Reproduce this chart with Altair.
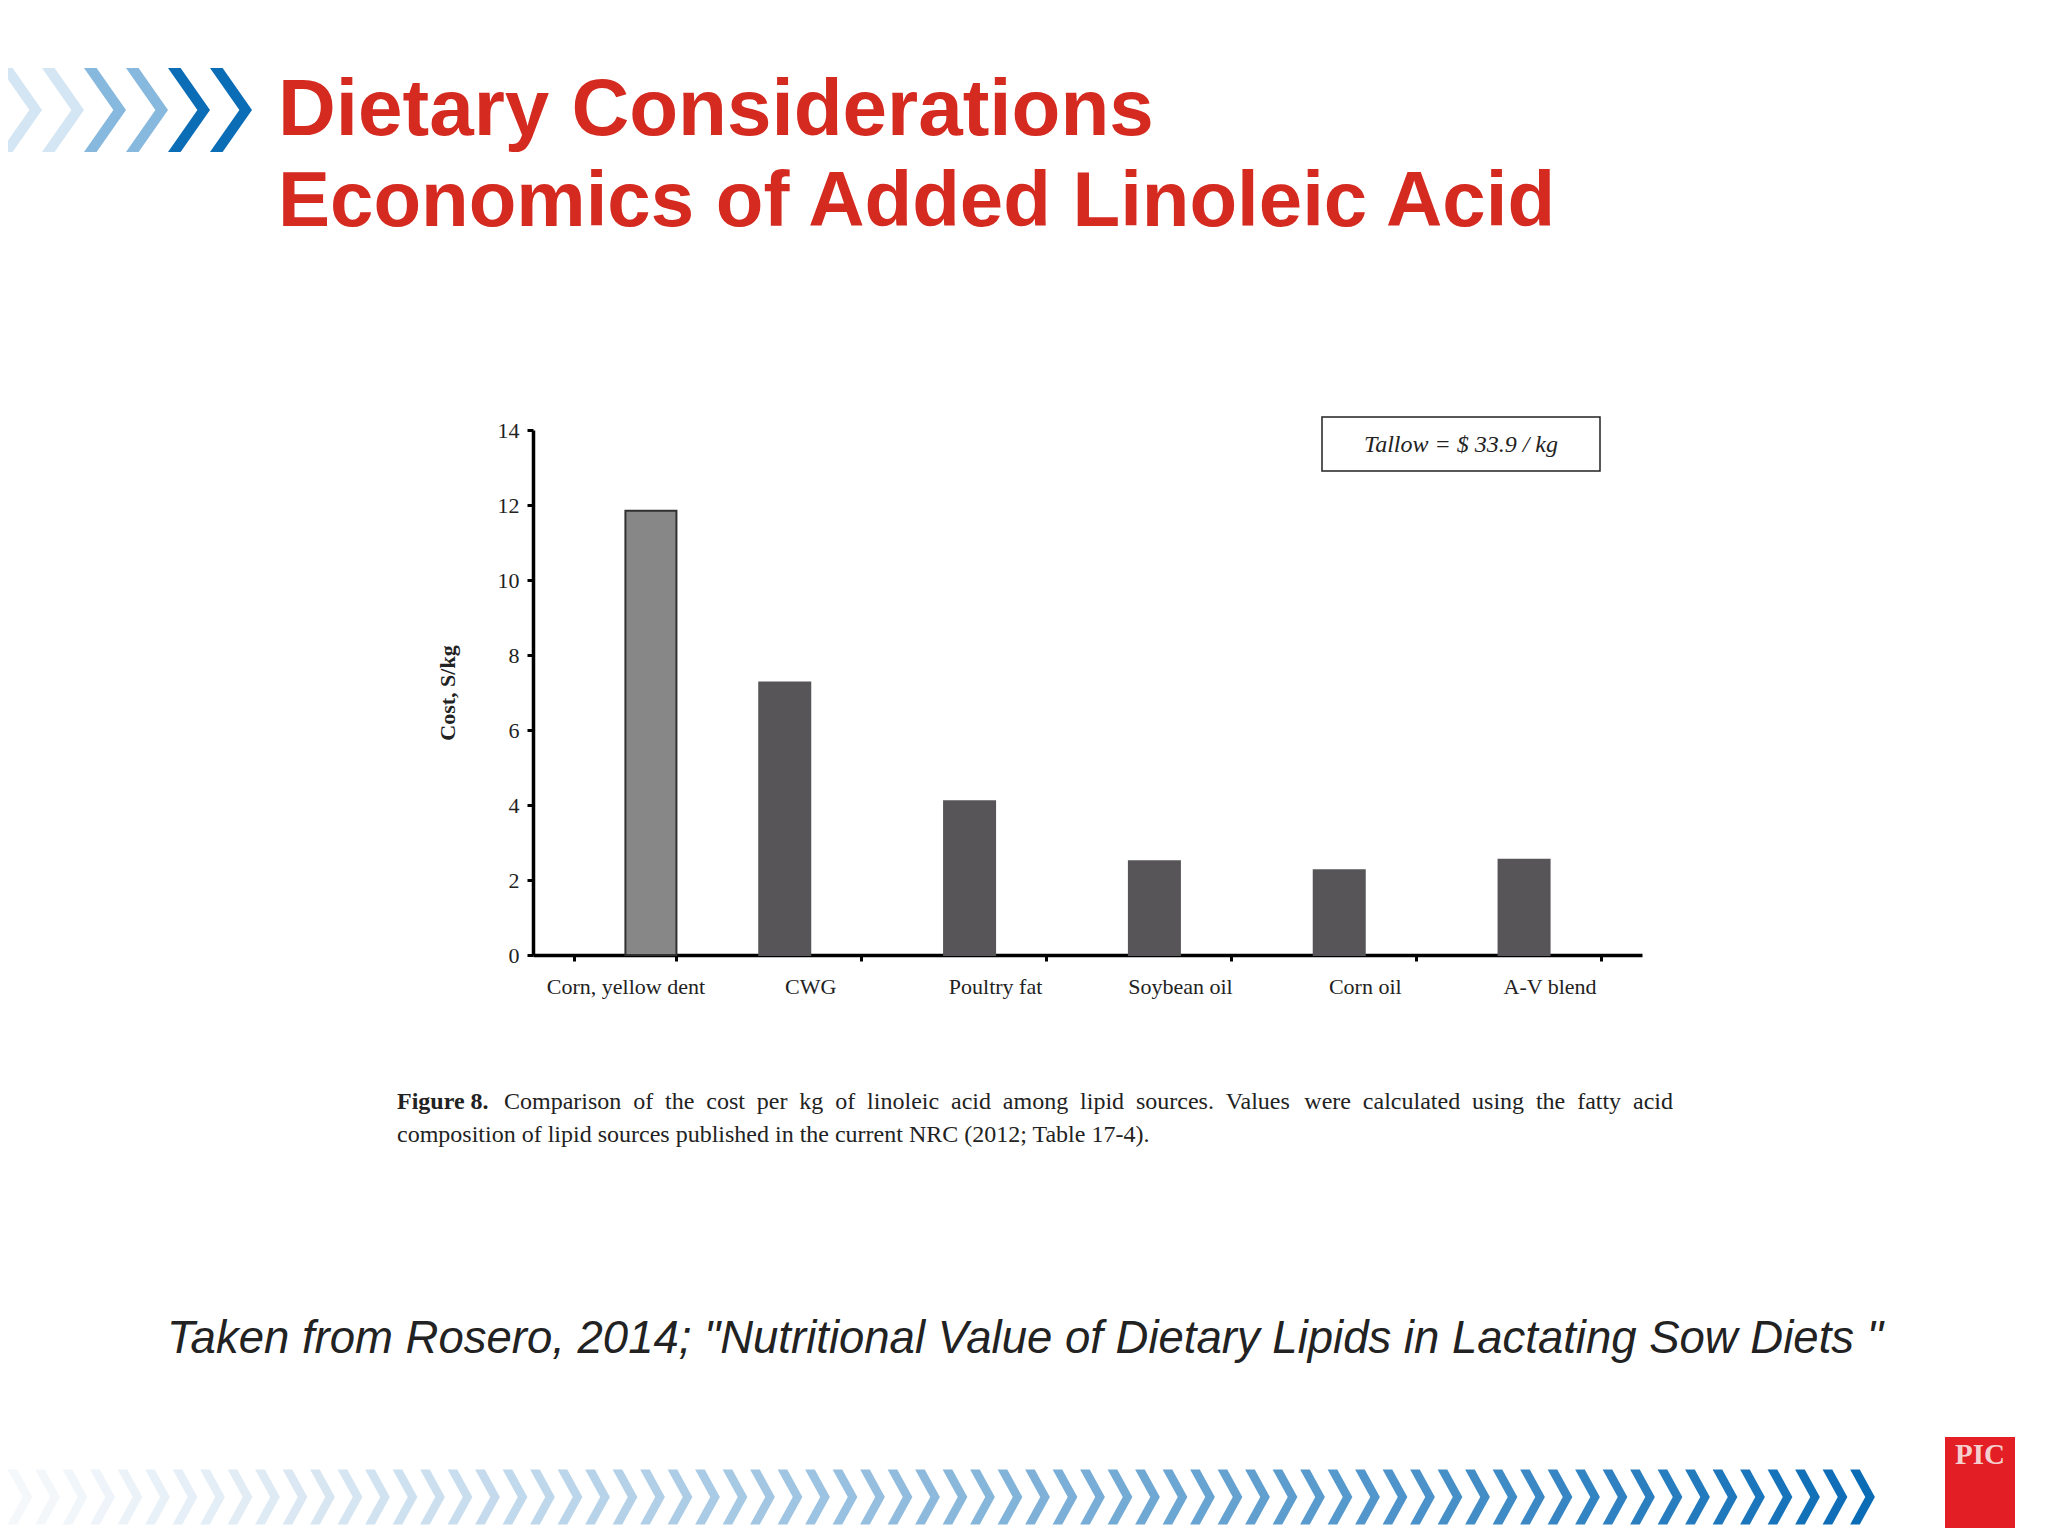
import altair as alt
import pandas as pd

# ---------------- data ----------------
categories = ["Corn, yellow dent", "CWG", "Poultry fat", "Soybean oil", "Corn oil", "A-V blend"]
costs = [11.85, 7.27, 4.1, 2.5, 2.26, 2.54]
groups = ["corn", "lipid", "lipid", "lipid", "lipid", "lipid"]
y_ticks = [0, 2, 4, 6, 8, 10, 12, 14]

title_line1 = "Dietary Considerations"
title_line2 = "Economics of Added Linoleic Acid"
box_label = "Tallow = $ 33.9 / kg"
y_title = "Cost, S/kg"
caption_bold = "Figure 8."
caption_line1 = ("Comparison of the cost per kg of linoleic acid among lipid sources. "
                 "Values were calculated using the fatty acid")
caption_line2 = "composition of lipid sources published in the current NRC (2012; Table 17-4)."
source_text = 'Taken from Rosero, 2014; "Nutritional Value of Dietary Lipids in Lactating Sow Diets "'
logo_text = "PIC"
top_chevron_colors = ["#d4e6f3", "#d4e6f3", "#87b8de", "#87b8de", "#0c6db7", "#0c6db7"]
n_bottom_chevrons = 68

# ---------------- layout ----------------
W, H = 1109, 525
SERIF = "Liberation Serif"
SANS = "Liberation Sans"
CHEV_TOP = "M-0.5,-1L-0.2,-1L0.5,0L-0.2,1L-0.5,1L0.2,0Z"
CHEV_BOT = "M-0.45,-1L-0.1,-1L0.45,0L-0.1,1L-0.45,1L0.1,0Z"
CAP_SIZE = 24

one = alt.Data(values=[{}])


def text_layer(txt, x, y, **kw):
    return alt.Chart(one).mark_text(text=txt, **kw).encode(x=alt.value(x), y=alt.value(y))


def rect_layer(x, x2, y, y2, **kw):
    return alt.Chart(one).mark_rect(**kw).encode(
        x=alt.value(x), x2=alt.value(x2), y=alt.value(y), y2=alt.value(y2)
    )


# Times/Liberation Serif advance widths (per 1000 em) to justify caption line 1
_tw = {" ": 250, ".": 250, ",": 250, ";": 278, "(": 333, ")": 333, "-": 333,
       "C": 667, "V": 722, "N": 722, "R": 667, "T": 611}
_tw.update({c: 500 for c in "bdghknopquvxy0123456789"})
_tw.update({c: 444 for c in "acez"})
_tw.update({"f": 333, "i": 278, "j": 278, "l": 278, "m": 778, "r": 333, "s": 389, "t": 278, "w": 722})


def text_width(s, size):
    return sum(_tw.get(ch, 500) for ch in s) * size / 1000.0


words = caption_line1.split(" ")
line_x0, line_x1 = -29, 1140
natural = sum(text_width(w, CAP_SIZE) for w in words)
gap = (line_x1 - line_x0 - natural) / (len(words) - 1)
pos = []
cur = line_x0
for w in words:
    pos.append(cur)
    cur += text_width(w, CAP_SIZE) + gap
words_df = pd.DataFrame({"word": words, "px": pos})

bars_df = pd.DataFrame({"category": categories, "cost": costs, "group": groups})

bars = alt.Chart(bars_df).mark_bar(strokeWidth=2).encode(
    x=alt.X(
        "category:N",
        sort=categories,
        scale=alt.Scale(paddingInner=0.448, paddingOuter=0.224),
        axis=alt.Axis(
            title=None, labelAngle=0, labelFont=SERIF, labelFontSize=22, labelColor="#222",
            labelPadding=15, tickSize=6, tickWidth=3, tickColor="black",
            domainColor="black", domainWidth=3.5, tickBand="extent", grid=False,
        ),
    ),
    xOffset=alt.XOffset(
        "group:N", sort=["lipid", "corn"],
        scale=alt.Scale(domain=["lipid", "corn"], paddingInner=0, paddingOuter=0),
    ),
    y=alt.Y(
        "cost:Q",
        scale=alt.Scale(domain=[0, 14], nice=False),
        axis=alt.Axis(
            values=y_ticks, title=y_title, titleFont=SERIF, titleFontSize=22,
            titleFontWeight="bold", titleColor="#222", titlePadding=38,
            labelFont=SERIF, labelFontSize=22, labelColor="#222", labelPadding=8,
            tickSize=6, tickWidth=3, tickColor="black", domainColor="black",
            domainWidth=3.5, grid=False,
        ),
    ),
    fill=alt.Fill("group:N", scale=alt.Scale(domain=["lipid", "corn"], range=["#575558", "#878787"]), legend=None),
    stroke=alt.Stroke("group:N", scale=alt.Scale(domain=["lipid", "corn"], range=["#575558", "#303030"]), legend=None),
)

# tallow box
box = rect_layer(789, 1067, -13, 41, fill="white", stroke="#222", strokeWidth=1.5)
box_text = text_layer(box_label, 928, 15, font=SERIF, fontSize=24, fontStyle="italic",
                      color="#222", align="center", baseline="middle")

# titles
t1 = text_layer(title_line1, -255, -295, font=SANS, fontSize=80, fontWeight="bold",
                color="#d42a20", align="left", baseline="alphabetic")
t2 = text_layer(title_line2, -255, -204, font=SANS, fontSize=78, fontWeight="bold",
                color="#d42a20", align="left", baseline="alphabetic")

# caption
cap_kw = dict(font=SERIF, fontSize=CAP_SIZE, color="#222", baseline="middle")
c0 = text_layer(caption_bold, -136, 672, fontWeight="bold", align="left", **cap_kw)
c1 = alt.Chart(words_df).mark_text(align="left", **cap_kw).encode(
    x=alt.X("px:Q", scale=None, axis=None),
    y=alt.value(672),
    text="word:N",
)
c4 = text_layer(caption_line2, -136, 705, align="left", **cap_kw)

# source
src = text_layer(source_text, -366, 923, font=SANS, fontSize=45.5, fontStyle="italic",
                 color="#222", align="left", baseline="alphabetic")

# top chevrons
top_df = pd.DataFrame({"i": list(range(len(top_chevron_colors))), "c": top_chevron_colors})
top_chev = alt.Chart(top_df).transform_calculate(px="-512 + datum.i * 42").mark_point(
    shape=CHEV_TOP, filled=True, size=7056, opacity=1, strokeWidth=0
).encode(
    x=alt.X("px:Q", scale=None, axis=None),
    y=alt.value(-320),
    fill=alt.Fill("c:N", scale=None),
)

# bottom chevrons
bot_df = pd.DataFrame({"i": list(range(n_bottom_chevrons))})
bot_chev = alt.Chart(bot_df).transform_calculate(
    px="-513 + datum.i * 27.5",
    t=f"pow(datum.i / {n_bottom_chevrons - 1}, 1.15)",
).transform_calculate(
    col="'rgb(' + round(245 - 234 * datum.t) + ',' + round(248 - 140 * datum.t) + ',' + round(251 - 69 * datum.t) + ')'"
).mark_point(shape=CHEV_BOT, filled=True, size=3025, opacity=1, strokeWidth=0).encode(
    x=alt.X("px:Q", scale=None, axis=None),
    y=alt.value(1067),
    fill=alt.Fill("col:N", scale=None),
)

# logo
logo = rect_layer(1412, 1482, 1007, 1110, fill="#e31e24")
logo_txt = text_layer(logo_text, 1447, 1025, font=SERIF, fontSize=29, fontWeight="bold",
                      color="#f5cfcf", align="center", baseline="middle")

chart = alt.layer(
    top_chev, bot_chev, t1, t2, bars, box, box_text, c0, c1, c4, src, logo, logo_txt
).properties(
    width=W, height=H,
    autosize=alt.AutoSizeParams(type="none"),
    padding={"left": 525, "top": 422, "right": 398, "bottom": 573},
    background="white",
).configure_view(stroke=None).configure_axis(grid=False)

chart.save("out.html", embed_options={"renderer": "svg", "actions": False})
